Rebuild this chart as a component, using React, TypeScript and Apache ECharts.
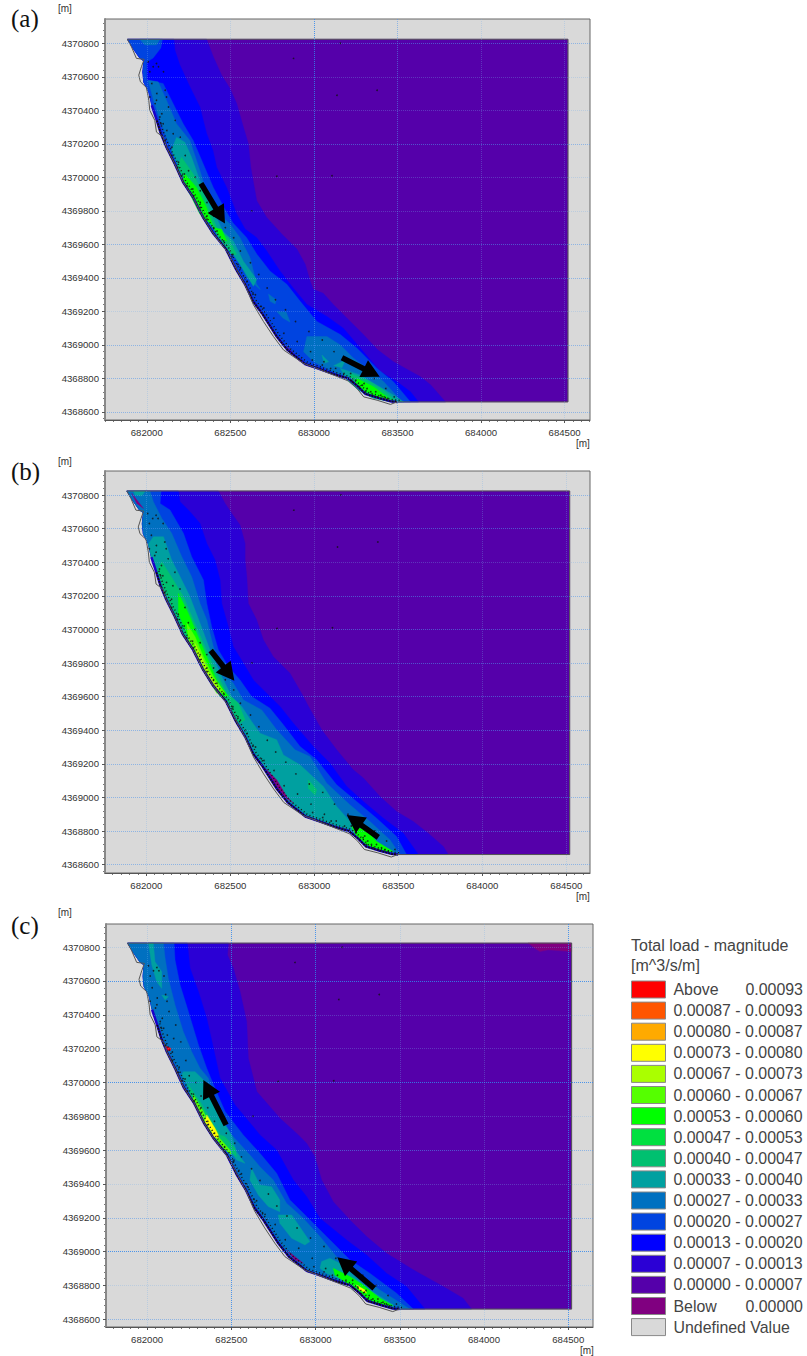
import React, { useEffect, useRef } from "react";
import * as echarts from "echarts";

const E0 = 680000;
const N0 = 4368000;
type P = number[];

const legendNames = ["Above 0.00093","0.00087 - 0.00093","0.00080 - 0.00087","0.00073 - 0.00080","0.00067 - 0.00073","0.00060 - 0.00067","0.00053 - 0.00060","0.00047 - 0.00053","0.00040 - 0.00047","0.00033 - 0.00040","0.00027 - 0.00033","0.00020 - 0.00027","0.00013 - 0.00020","0.00007 - 0.00013","0.00000 - 0.00007","Below 0.00000","Undefined Value"];
const legendColors = ["#ff0000","#ff5500","#ffaa00","#ffff00","#aaff00","#55ff00","#00ff00","#00e040","#00c070","#00a0a0","#0070c0","#0044e0","#0000ff","#2b00d5","#5500aa","#800080","#d9d9d9"];

const xLabels = [682000, 682500, 683000, 683500, 684000, 684500];
const yLabels = [4370800, 4370600, 4370400, 4370200, 4370000, 4369800, 4369600, 4369400, 4369200, 4369000, 4368800, 4368600];
const xMinor: number[] = [];
for (let v = 681750; v <= 684650; v += 50) xMinor.push(v);
const yMinor: number[] = [];
for (let v = 4368560; v <= 4370940; v += 40) yMinor.push(v);

// Mesh edge along the shore, easting/northing offsets in metres
const mesh: P[] = [[1884,2824],[1916,2772],[1958,2712],[1982,2694],[1976,2628],[1982,2568],[2012,2508],[2030,2430],[2060,2340],[2084,2262],[2118,2180],[2168,2080],[2218,1970],[2278,1880],[2338,1760],[2396,1668],[2474,1572],[2534,1452],[2588,1362],[2636,1260],[2690,1188],[2778,1050],[2842,970],[2948,886],[3018,862],[3118,826],[3206,800],[3260,756],[3308,708],[3386,684],[3458,664],[3498,660]];
const land: P[] = [[1884,2824],[1908,2780],[1938,2710],[1984,2704],[1968,2660],[1952,2610],[1962,2570],[1998,2536],[2012,2460],[2018,2400],[2048,2340],[2058,2270],[2098,2240],[2118,2180],[2168,2080],[2218,1970],[2278,1880],[2338,1760],[2396,1668],[2486,1550],[2538,1450],[2588,1358],[2638,1240],[2698,1140],[2758,1050],[2818,970],[2938,890],[3018,860],[3118,820],[3208,784],[3258,740],[3298,690],[3378,670],[3458,645],[3498,660],[4520,660],[4520,2824],[1884,2824]];
const domain: P[] = [[1884,2824],[4520,2824],[4520,660],[3498,660]];
const meshDots: P[] = [[2070,2660],[2100,2630],[2030,2560],[2060,2500],[2110,2520],[2050,2440],[2090,2380],[2130,2420],[2085,2320],[2120,2280],[2170,2340],[2110,2220],[2150,2180],[2200,2240],[2150,2130],[2190,2090],[2185,2060],[2230,2130],[2210,2010],[2250,2040],[2240,1950],[2290,2000],[2280,1890],[2320,1920],[2320,1820],[2360,1850],[2360,1750],[2400,1770],[2420,1680],[2470,1700],[2460,1600],[2520,1640],[2510,1530],[2560,1560],[2560,1460],[2620,1490],[2600,1380],[2670,1420],[2650,1300],[2720,1340],[2700,1220],[2770,1270],[2760,1160],[2830,1210],[2820,1070],[2890,1140],[2900,1020],[2970,1080],[2980,960],[3050,1030],[3060,900],[3120,960],[3130,860],[3200,900],[3220,830],[3280,860],[3300,770],[3360,800],[3370,720],[3430,740],[3420,690],[3480,690],[2878,2710],[3158,2800],[3378,2520],[3138,2490],[3108,2010],[2778,2006],[2628,1800],[2008,2690],[2038,2660],[2018,2630],[2058,2680],[2018,2480],[2058,2460],[2078,2360],[2118,2480],[2158,2260],[2098,2320],[3318,740],[3340,720],[3290,760],[3400,700],[3440,680],[3250,790],[3180,830],[3100,860],[3050,880],[2990,910],[3380,690],[3350,700],[3310,720],[3270,750],[3230,780],[2225,2020],[2275,1930],[2320,1850],[2360,1770],[2400,1700],[2460,1620],[2515,1540],[2545,1480],[2590,1400],[2635,1310],[2685,1230]];

// Panel (a)
const a07: P[] = [[2358,2824],[2398,2720],[2448,2610],[2498,2530],[2538,2440],[2578,2300],[2608,2200],[2622,2060],[2658,1860],[2718,1760],[2808,1662],[2898,1572],[2948,1482],[2978,1380],[2996,1332],[3056,1308],[3116,1242],[3200,1158],[3296,1062],[3380,972],[3476,900],[3638,810],[3698,762],[3788,660]];
const a13: P[] = [[2162,2824],[2168,2760],[2198,2670],[2258,2540],[2318,2420],[2358,2262],[2396,2160],[2418,2060],[2478,1940],[2538,1782],[2588,1692],[2658,1640],[2718,1560],[2798,1440],[2876,1340],[2958,1242],[3078,1170],[3176,1100],[3296,960],[3398,840],[3498,780],[3578,720],[3626,660]];
const a20: P[] = [[2094,2824],[2084,2772],[2038,2712],[2000,2688],[2000,2580],[2098,2560],[2138,2480],[2218,2320],[2278,2220],[2338,2080],[2398,1940],[2456,1830],[2516,1728],[2598,1640],[2658,1542],[2738,1440],[2838,1362],[2918,1260],[3018,1140],[3158,1062],[3258,980],[3378,860],[3476,780],[3578,660]];
const a27t: P[] = [[1958,2824],[2078,2824],[2058,2790],[1988,2790]];
const a27n: P[] = [[2008,2580],[2068,2570],[2118,2460],[2178,2320],[2258,2220],[2318,2040],[2368,1880],[2426,1788],[2498,1722],[2558,1640],[2618,1520],[2658,1362],[2680,1330],[2600,1400],[2540,1520],[2480,1610],[2400,1720],[2340,1810],[2280,1930],[2220,2020],[2170,2130],[2120,2230],[2080,2340],[2040,2460]];
const a27s: P[] = [[2958,1050],[3078,1050],[3158,1000],[3238,920],[3318,860],[3418,780],[3528,660],[3458,660],[3318,740],[3198,800],[3078,860],[2998,900],[2938,960]];
const a27p1: P[] = [[2728,1304],[2774,1270],[2768,1244],[2738,1260]];
const a27p2: P[] = [[2778,1200],[2834,1196],[2858,1136],[2814,1160]];
const a33n: P[] = [[2178,2240],[2228,2210],[2268,2120],[2318,1980],[2398,1800],[2454,1680],[2518,1620],[2578,1500],[2658,1390],[2638,1350],[2558,1480],[2488,1580],[2408,1680],[2358,1740],[2298,1860],[2198,2040],[2148,2160]];
const a33s: P[] = [[3158,860],[3278,820],[3378,760],[3478,700],[3538,660],[3478,660],[3358,680],[3268,730],[3198,790]];
const a33p1: P[] = [[3048,940],[3088,900],[3062,890]];
const a33p2: P[] = [[3118,876],[3188,910],[3168,864]];
const a40n: P[] = [[2208,2120],[2278,2020],[2358,1860],[2418,1700],[2488,1640],[2538,1540],[2508,1540],[2428,1640],[2388,1720],[2338,1780],[2258,1920],[2178,2060]];
const a40s: P[] = [[3218,830],[3318,790],[3418,730],[3498,660],[3438,664],[3338,690],[3268,740],[3218,780]];
const a53n: P[] = [[2228,2020],[2298,1940],[2358,1820],[2398,1700],[2448,1690],[2478,1620],[2448,1630],[2398,1710],[2318,1780],[2268,1880],[2214,1980]];
const a53s: P[] = [[3258,800],[3358,750],[3438,690],[3468,664],[3378,690],[3298,730],[3248,770]];
const aBelow: P[] = [[2838,990],[2918,900],[2878,950]];
const aArrows: P[][] = [[[2324,1964],[2468,1724]],[[3168,924],[3394,810]]];

// Panel (b)
const b07: P[] = [[2429,2824],[2469,2750],[2508,2691],[2558,2621],[2588,2512],[2588,2413],[2598,2314],[2607,2155],[2657,2056],[2697,1937],[2756,1838],[2855,1739],[2935,1600],[2955,1561],[2994,1491],[3044,1402],[3133,1283],[3232,1164],[3292,1115],[3391,1005],[3490,916],[3589,857],[3678,787],[3768,708],[3797,660]];
const b13: P[] = [[2191,2824],[2201,2760],[2260,2701],[2320,2631],[2360,2512],[2409,2413],[2439,2294],[2449,2155],[2488,2016],[2518,1897],[2578,1798],[2637,1699],[2736,1600],[2796,1541],[2875,1442],[2994,1303],[3093,1204],[3193,1065],[3292,976],[3411,876],[3530,787],[3619,660]];
const b20: P[] = [[2088,2824],[2082,2750],[2141,2711],[2221,2572],[2270,2433],[2340,2294],[2360,2155],[2389,2016],[2429,1878],[2488,1779],[2558,1699],[2627,1600],[2736,1531],[2816,1432],[2915,1303],[3014,1224],[3133,1075],[3252,976],[3371,876],[3490,767],[3549,660]];
const b27: P[] = [[2022,2824],[2042,2760],[2092,2661],[2151,2572],[2211,2433],[2270,2314],[2320,2155],[2360,2056],[2399,1897],[2449,1759],[2518,1679],[2578,1580],[2687,1521],[2776,1402],[2885,1283],[2974,1243],[3074,1085],[3212,956],[3331,857],[3450,748],[3510,660]];
const b33t: P[] = [[1923,2824],[1993,2824],[1973,2794],[1933,2800]];
const b33: P[] = [[2042,2552],[2102,2552],[2151,2413],[2211,2294],[2260,2195],[2320,2036],[2379,1878],[2449,1719],[2508,1600],[2568,1541],[2627,1452],[2677,1382],[2776,1343],[2816,1253],[2915,1194],[3054,1065],[3133,946],[3212,857],[3311,787],[3411,708],[3460,660]];
const b40: P[] = [[2092,2403],[2161,2294],[2221,2195],[2280,2056],[2340,1917],[2419,1739],[2479,1620],[2548,1561],[2588,1462],[2558,1442]];
const b40p: P[] = [[2964,1105],[3014,1045],[3004,1015],[2964,1055]];
const b53: P[] = [[2191,2215],[2250,2096],[2300,1977],[2360,1838],[2419,1699],[2488,1600],[2439,1600],[2379,1699],[2320,1818],[2250,1957],[2191,2096]];
const b53s: P[] = [[3222,827],[3311,807],[3371,738],[3470,678],[3391,678],[3311,718],[3252,767]];
const b60: P[] = [[2241,2036],[2290,1957],[2340,1838],[2399,1719],[2469,1620],[2419,1620],[2360,1719],[2300,1838],[2250,1937]];
const b67: P[] = [[2290,1917],[2330,1838],[2379,1729],[2439,1640],[2399,1660],[2350,1759],[2300,1858]];
const bBelow1: P[] = [[2707,1174],[2776,1105],[2836,1005],[2875,966],[2826,999],[2766,1065]];
const bBelow2: P[] = [[1913,2810],[1983,2720],[1943,2750]];
const bArrows: P[][] = [[[2383,1874],[2524,1695]],[[3381,762],[3193,896]]];

// Panel (c)
const c07: P[] = [[2483,2824],[2477,2754],[2512,2675],[2552,2537],[2591,2360],[2601,2143],[2651,1946],[2789,1788],[2898,1690],[2947,1640],[2996,1561],[3036,1423],[3105,1295],[3204,1187],[3303,1089],[3421,990],[3580,892],[3758,793],[3876,724],[3926,660]];
const c13: P[] = [[2239,2824],[2255,2675],[2305,2537],[2354,2379],[2394,2202],[2433,2025],[2522,1867],[2670,1690],[2769,1601],[2868,1423],[2947,1325],[3026,1197],[3184,1069],[3303,980],[3421,872],[3540,793],[3649,660]];
const c20: P[] = [[2160,2824],[2166,2724],[2196,2576],[2245,2419],[2305,2222],[2354,2084],[2403,1966],[2463,1828],[2571,1690],[2670,1581],[2769,1463],[2848,1305],[2947,1207],[3065,1089],[3204,951],[3322,872],[3481,754],[3580,660]];
const c27: P[] = [[2097,2824],[2107,2734],[2126,2616],[2166,2458],[2215,2300],[2265,2182],[2314,2084],[2364,2025],[2394,1926],[2443,1788],[2502,1690],[2620,1561],[2670,1502],[2749,1423],[2828,1286],[2927,1197],[3026,1089],[3125,970],[3224,892],[3382,773],[3560,660]];
const c33a: P[] = [[2008,2824],[2037,2824],[2047,2714],[2087,2655],[2087,2556],[2057,2596],[2028,2694]];
const c33b: P[] = [[2087,2517],[2126,2507],[2107,2488]];
const c33c: P[] = [[2620,1492],[2670,1394],[2739,1384],[2788,1305],[2788,1236],[2719,1266],[2660,1335],[2610,1423]];
const c33d: P[] = [[2778,1217],[2858,1217],[2966,1059],[2937,1039],[2858,1079],[2788,1167]];
const c33e: P[] = [[2215,2064],[2285,2064],[2344,2005],[2394,1887],[2463,1749],[2502,1690],[2531,1591],[2581,1522],[2531,1542],[2472,1620],[2403,1699],[2334,1828],[2255,1946],[2206,2044]];
const c33f: P[] = [[3036,941],[3085,961],[3144,931],[3243,842],[3322,773],[3461,685],[3441,669],[3322,714],[3204,813],[3065,872],[3026,901]];
const c40: P[] = [[2245,1985],[2314,1887],[2374,1788],[2433,1690],[2462,1680],[2521,1611],[2531,1561],[2462,1620],[2393,1699],[2384,1690],[2314,1808],[2255,1926]];
const c53s: P[] = [[3105,901],[3204,852],[3283,803],[3382,724],[3461,679],[3382,685],[3303,724],[3204,803],[3115,862]];
const c60: P[] = [[2275,1926],[2334,1828],[2394,1709],[2413,1690],[2492,1601],[2502,1571],[2442,1620],[2393,1689],[2374,1709],[2314,1808],[2271,1896]];
const c73: P[] = [[2354,1808],[2403,1729],[2423,1690],[2422,1670],[2393,1680],[2384,1709],[2344,1768]];
const c73s: P[] = [[3243,803],[3293,773],[3303,754],[3263,773]];
const cRed: P[] = [[2107,2216],[2142,2202],[2136,2186],[2111,2194]];
const cBelow1: P[] = [[4263,2824],[4520,2824],[4520,2774],[4381,2784],[4332,2774],[4302,2793]];
const cBelow2: P[] = [[2828,1010],[2927,931],[2878,950]];
const cArrows: P[][] = [[[2469,1749],[2334,2015]],[[3348,783],[3129,966]]];

const shoreClose = (c: P[]): P[] => {
  const top = c[0][1];
  const bottom = c[c.length - 1][1];
  return c.concat(mesh.filter((p) => p[1] <= top && p[1] >= bottom).reverse());
};
const domainPoly = domain.concat(mesh.slice(1, -1).reverse());
const offshoreSpeckle = mesh.slice(8).map((p) => [p[0] + 15, p[1] + 9]);

const STRONG = "rgba(50,135,235,0.85)";
const MID = "rgba(80,150,235,0.55)";
const FAINT = "rgba(120,175,235,0.3)";

const panels = [
  {
    grid: { left: 105, top: 19, width: 485, height: 401 },
    xRange: [681750, 684652], yRange: [4368552, 4370945],
    xColors: [FAINT, FAINT, STRONG, MID, FAINT, FAINT],
    yColors: [MID, FAINT, FAINT, MID, FAINT, FAINT, MID, MID, FAINT, MID, MID, MID],
    bands: { 13: [shoreClose(a07)], 12: [shoreClose(a13)], 11: [shoreClose(a20)], 10: [a27t, a27n, a27s, a27p1, a27p2], 9: [a33n, a33s, a33p1, a33p2], 8: [a40n, a40s], 6: [a53n, a53s], 15: [aBelow] } as Record<number, P[][]>,
    arrows: aArrows,
  },
  {
    grid: { left: 105, top: 471, width: 485, height: 402 },
    xRange: [681754, 684641], yRange: [4368550, 4370943],
    xColors: [FAINT, FAINT, FAINT, FAINT, FAINT, FAINT],
    yColors: [MID, MID, FAINT, MID, MID, MID, MID, MID, MID, MID, MID, MID],
    bands: { 13: [shoreClose(b07)], 12: [shoreClose(b13)], 11: [shoreClose(b20)], 10: [shoreClose(b27)], 9: [b33t, shoreClose(b33)], 8: [shoreClose(b40), b40p], 6: [b53, b53s], 5: [b60], 4: [b67], 15: [bBelow1, bBelow2] } as Record<number, P[][]>,
    arrows: bArrows,
  },
  {
    grid: { left: 106, top: 924, width: 487, height: 403 },
    xRange: [681756, 684647], yRange: [4368554, 4370937],
    xColors: [FAINT, STRONG, STRONG, FAINT, FAINT, STRONG],
    yColors: [FAINT, STRONG, FAINT, FAINT, STRONG, FAINT, MID, FAINT, MID, STRONG, FAINT, MID],
    bands: { 13: [shoreClose(c07)], 12: [shoreClose(c13)], 11: [shoreClose(c20)], 10: [shoreClose(c27)], 9: [c33a, c33b, c33c, c33d, c33e, c33f], 8: [c40], 6: [c53s], 5: [c60], 3: [c73, c73s], 0: [cRed], 15: [cBelow1, cBelow2] } as Record<number, P[][]>,
    arrows: cArrows,
  },
];

const drawOrder = [16, 14, 13, 12, 11, 10, 9, 8, 7, 6, 5, 4, 3, 2, 1, 0, 15];
const FONT = "'Liberation Sans', Arial, sans-serif";
const SERIF = "'Liberation Serif', 'Times New Roman', serif";

function buildOption() {
  const grid: any[] = [];
  const xAxis: any[] = [];
  const yAxis: any[] = [];
  const series: any[] = [];

  panels.forEach((p, i) => {
    grid.push({ ...p.grid, show: true, backgroundColor: "#d9d9d9", borderColor: "#666", borderWidth: 1 });
    const labelStyle = { fontSize: 9.6, color: "#333", fontFamily: FONT };
    xAxis.push(
      {
        type: "value", gridIndex: i, position: "bottom", min: p.xRange[0], max: p.xRange[1], z: 5,
        axisLine: { show: true, lineStyle: { color: "#555" } },
        axisTick: { show: true, length: 3, customValues: xLabels, lineStyle: { color: "#555" } },
        axisLabel: { ...labelStyle, margin: 7, customValues: xLabels, formatter: (v: number) => String(v) },
        splitLine: { show: true, lineStyle: { color: p.xColors, type: "dotted", width: 1 } },
      },
      {
        type: "value", gridIndex: i, position: "bottom", min: p.xRange[0], max: p.xRange[1],
        axisLine: { show: false }, axisLabel: { show: false }, splitLine: { show: false },
        axisTick: { show: true, length: 2, customValues: xMinor, lineStyle: { color: "#777" } },
      }
    );
    yAxis.push(
      {
        type: "value", gridIndex: i, position: "left", min: p.yRange[0], max: p.yRange[1], z: 5,
        axisLine: { show: true, lineStyle: { color: "#888", width: 2 } },
        axisTick: { show: true, length: 3, customValues: yLabels, lineStyle: { color: "#555" } },
        axisLabel: { ...labelStyle, margin: 6, customValues: yLabels, formatter: (v: number) => String(v) },
        splitLine: { show: true, lineStyle: { color: p.yColors, type: "dotted", width: 1 } },
      },
      {
        type: "value", gridIndex: i, position: "left", min: p.yRange[0], max: p.yRange[1],
        axisLine: { show: false }, axisLabel: { show: false }, splitLine: { show: false },
        axisTick: { show: true, length: 2, customValues: yMinor, lineStyle: { color: "#777" } },
      }
    );
    const axes = { xAxisIndex: i * 2, yAxisIndex: i * 2 };

    drawOrder.forEach((b) => {
      const polys: P[][] = b === 14 ? [domainPoly] : p.bands[b] || [];
      const color = legendColors[b];
      series.push({
        type: "custom", name: legendNames[b], ...axes, silent: true, clip: true, z: 2,
        itemStyle: { color },
        data: polys.map((poly) => [E0 + poly[0][0], N0 + poly[0][1]]),
        renderItem: (params: any, api: any) => ({
          type: "polygon",
          shape: { points: polys[params.dataIndex].map((q) => api.coord([E0 + q[0], N0 + q[1]])) },
          style: { fill: color, stroke: color, lineWidth: 0.4 },
        }),
      });
    });

    const pline = (name: string, pts: P[], style: any, z: number) => ({
      type: "custom", name, ...axes, silent: true, z,
      data: [[E0 + pts[0][0], N0 + pts[0][1]]],
      renderItem: (_: any, api: any) => ({
        type: "polyline",
        shape: { points: pts.map((q) => api.coord([E0 + q[0], N0 + q[1]])) },
        style: { fill: null, ...style },
      }),
    });
    series.push(pline("nearshore", mesh.slice(7), { stroke: "#1a00c8", lineWidth: 2.5 }, 3));
    series.push(pline("offshore speckle", offshoreSpeckle, { stroke: "#111", lineWidth: 1.5, lineDash: [1, 2.5] }, 3));
    series.push(pline("shore speckle", mesh.slice(8), { stroke: "#111", lineWidth: 1.7, lineDash: [2, 1] }, 3));
    series.push(pline("land boundary", land, { stroke: "#555", lineWidth: 1 }, 3));
    series.push({
      type: "scatter", name: "mesh nodes", ...axes, silent: true, z: 3,
      symbolSize: 1.7, itemStyle: { color: "#111" },
      data: meshDots.map((q) => [E0 + q[0], N0 + q[1]]),
    });
    series.push({
      type: "custom", name: "transport direction", ...axes, silent: true, z: 8,
      data: p.arrows.map((a) => [E0 + a[0][0], N0 + a[0][1], E0 + a[1][0], N0 + a[1][1]]),
      renderItem: (_: any, api: any) => {
        const t = api.coord([api.value(0), api.value(1)]);
        const h = api.coord([api.value(2), api.value(3)]);
        const dx = h[0] - t[0];
        const dy = h[1] - t[1];
        const len = Math.hypot(dx, dy);
        const ux = dx / len, uy = dy / len;
        const nx = -uy, ny = ux;
        const b = [h[0] - ux * 18, h[1] - uy * 18];
        const sw = 2.8, hw = 9.5;
        return {
          type: "polygon",
          shape: { points: [
            [t[0] + nx * sw, t[1] + ny * sw],
            [b[0] + nx * sw, b[1] + ny * sw],
            [b[0] + nx * hw, b[1] + ny * hw],
            h,
            [b[0] - nx * hw, b[1] - ny * hw],
            [b[0] - nx * sw, b[1] - ny * sw],
            [t[0] - nx * sw, t[1] - ny * sw],
          ] },
          style: { fill: "#000" },
        };
      },
    });
  });

  const txt = (text: string, x: number, y: number, fontSize: number, fontFamily: string, fill: string, textAlign = "left") => ({
    type: "text", x, y, z: 20,
    style: { text, x: 0, y: 0, fontSize, fontFamily, fill, textAlign, textVerticalAlign: "middle" },
  });

  return {
    animation: false,
    backgroundColor: "#fff",
    grid, xAxis, yAxis, series,
    legend: {
      orient: "vertical", left: 631, top: 980.5, padding: 0,
      itemWidth: 34, itemHeight: 17, itemGap: 3.1, icon: "rect",
      selectedMode: false,
      data: legendNames,
      itemStyle: { borderColor: "#888", borderWidth: 1 },
      textStyle: {
        color: "#444", fontSize: 16, fontFamily: FONT,
        rich: {
          w: { fontSize: 15.9, fontFamily: FONT, color: "#444", width: 72, padding: [0, 0, 0, 3] },
          v: { fontSize: 15.9, fontFamily: FONT, color: "#444" },
          t: { fontSize: 15.9, fontFamily: FONT, color: "#444", padding: [0, 0, 0, 3] },
        },
      },
      formatter: (name: string) => {
        const m = name.match(/^(Above|Below) (.+)$/);
        if (m) return `{w|${m[1]}}{v|${m[2]}}`;
        return `{t|${name}}`;
      },
    },
    graphic: [
      txt("(a)", 11, 18, 25, SERIF, "#111"),
      txt("(b)", 11, 471, 25, SERIF, "#111"),
      txt("(c)", 11, 925, 25, SERIF, "#111"),
      txt("[m]", 58, 8, 10, FONT, "#333"),
      txt("[m]", 58, 461, 10, FONT, "#333"),
      txt("[m]", 58, 912, 10, FONT, "#333"),
      txt("[m]", 576, 443, 10, FONT, "#333"),
      txt("[m]", 576, 896, 10, FONT, "#333"),
      txt("[m]", 580, 1350, 10, FONT, "#333"),
      txt("Total load - magnitude", 631, 945, 16, FONT, "#444"),
      txt("[m^3/s/m]", 631, 965, 16, FONT, "#444"),
    ],
  };
}

export default function App() {
  const ref = useRef<HTMLDivElement>(null);
  useEffect(() => {
    const chart = echarts.init(ref.current!, undefined, { renderer: "svg" });
    chart.setOption(buildOption() as any);
    return () => chart.dispose();
  }, []);
  return <div ref={ref} style={{ position: "absolute", left: 0, top: 0, width: 807, height: 1356 }} />;
}
